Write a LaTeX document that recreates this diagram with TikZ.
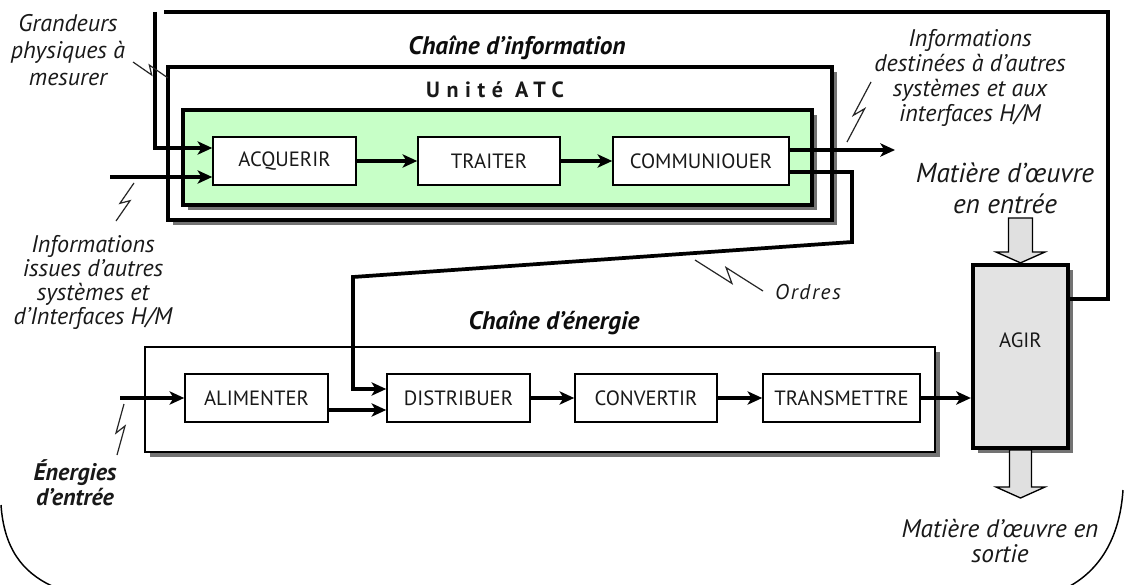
\documentclass[tikz,border=0pt]{standalone}
\usepackage{fontspec}
\setmainfont{PT Sans}
\usetikzlibrary{arrows.meta,shadows,calc}
\newcommand\eclair[5]{% x1 y1 x2 y2 offset
  \pgfmathsetmacro\bdx{#3-#1}\pgfmathsetmacro\bdy{#4-#2}%
  \pgfmathsetmacro\blen{veclen(\bdx,\bdy)}%
  \pgfmathsetmacro\bnx{-\bdy/\blen*#5}\pgfmathsetmacro\bny{\bdx/\blen*#5}%
  \draw[boltline] (#1,#2) -- ({#1+0.58*\bdx+\bnx},{#2+0.58*\bdy+\bny}) -- ({#1+0.42*\bdx-\bnx},{#2+0.42*\bdy-\bny}) -- (#3,#4);}
\begin{document}
\begin{tikzpicture}[x=0.75pt,y=-0.75pt,
  wire/.style={line width=2.8pt},
  flow/.style={line width=2.8pt,-{Stealth[length=11pt,width=10pt,inset=3pt]}},
  boltline/.style={line width=0.9pt,black!85},
  shad/.style={drop shadow={shadow xshift=3.6pt,shadow yshift=-3.6pt,fill=black!55,opacity=1}},
  fbox/.style={draw,line width=1.2pt,fill=white,inner sep=0pt,minimum height=36pt,
    font=\fontsize{15.5}{18}\selectfont,text=black!90},
  thickbox/.style={draw,line width=3.2pt,inner sep=0pt,shad},
  thinbox/.style={draw,line width=1.3pt,inner sep=0pt,fill=white,shad},
  lab/.style={align=center,font=\fontsize{18}{19}\selectfont\itshape,text=black!90},
  title/.style={font=\fontsize{19}{21}\selectfont\bfseries\itshape,text=black!95},
  hollow/.style={draw,line width=1pt,fill=black!12},
  outline/.style={line width=1.1pt}]
\useasboundingbox (0,0) rectangle (1125,585);
\fill[white] (0,0) rectangle (1125,585);

% containers
\node[thickbox,fill=white,minimum width=498pt,minimum height=114.75pt] (chinfo) at (500,143.5) {};
\node[thickbox,fill=green!22!white,minimum width=471.75pt,minimum height=71.25pt] (atc) at (497.5,157.5) {};
\node[thinbox,minimum width=592.5pt,minimum height=78.75pt] (chen) at (540,399.5) {};

\node[title] (tinfo) at (517,48) {Chaîne d’information};
\node[font=\fontsize{16.5}{19}\selectfont\bfseries\addfontfeature{LetterSpace=30},text=black!90] (tatc) at (495,90) {Unité ATC};
\node[title] (ten) at (554,323) {Chaîne d’énergie};

% function boxes
\node[fbox,minimum width=107.25pt] (acq) at (284.5,161) {ACQUERIR};
\node[fbox,minimum width=106.5pt] (trait) at (489,161) {TRAITER};
\node[fbox,minimum width=132pt] (comm) at (701,161) {COMMUNIOUER};
\node[fbox,minimum width=107.25pt] (ali) at (256.5,398) {ALIMENTER};
\node[fbox,minimum width=107.25pt] (dist) at (458.5,398) {DISTRIBUER};
\node[fbox,minimum width=106.5pt] (conv) at (646,398) {CONVERTIR};
\node[fbox,minimum width=117.75pt] (trans) at (841.5,398) {TRANSMETTRE};
\node[thickbox,fill=black!11,minimum width=71.25pt,minimum height=137.25pt,
  label={[yshift=12pt,font=\fontsize{15.5}{18}\selectfont,text=black!90]center:AGIR}] (agir) at (1020.5,356.5) {};

% coordinates
\coordinate (fb1) at (1108,299);
\coordinate (fb2) at (1108,12);
\coordinate (fb3) at (164,12);
\coordinate (gp) at (155,12);
\coordinate (gin) at (155,148);
\coordinate (iin) at (110,177);
\coordinate (iout) at (895,150);
\coordinate (o1) at (852,172);
\coordinate (o2) at (852,242);
\coordinate (o3) at (353,277);
\coordinate (o4) at (353,389);
\coordinate (ein) at (120,398);
\coordinate (al) at (0,410);

% connectors
\draw[wire] (agir.east |- fb1) -- (fb1) -- (fb2) -- (fb3);
\draw[flow] (gp) -- (gin) -- (gin -| acq.west);
\draw[flow] (iin) -- (iin -| acq.west);
\draw[flow] (acq.east) -- (trait.west);
\draw[flow] (trait.east) -- (comm.west);
\draw[flow] (comm.east |- iout) -- (iout);
\draw[flow] (comm.east |- o1) -- (o1) -- (o2) -- (o3) -- (o4) -- (o4 -| dist.west);
\draw[flow] (ein) -- (ali.west);
\draw[flow] (ali.east |- al) -- (dist.west |- al);
\draw[flow] (dist.east) -- (conv.west);
\draw[flow] (conv.east) -- (trans.west);
\draw[flow] (trans.east) -- (trans.east -| agir.west);

% hollow arrows (matter in / out)
\draw[hollow] (1008.5,218) -- (1032.5,218) -- (1032.5,252) -- (1045,252) -- (agir.north) -- (996,252) -- (1008.5,252) -- cycle;
\draw[hollow] (1009.5,450) -- (1009.5,487) -- (996,487) -- (1020.5,498) -- (1045,487) -- (1031.5,487) -- (1031.5,450) -- cycle;

% lightning marks
\eclair{133}{62}{168}{78}{4}
\eclair{116}{221}{134}{183}{4}
\eclair{847}{142}{871}{82}{4}
\eclair{695}{260}{763}{291}{6}
\eclair{117}{455}{124}{404}{4}

% labels
\node[lab,font=\fontsize{18}{20}\selectfont\itshape] (lgr) at (68,50) {Grandeurs\\physiques à\\mesurer};
\node[lab,font=\fontsize{18}{18}\selectfont\itshape] (liss) at (93,282) {Informations\\issues d’autres\\systèmes et\\d’Interfaces H/M};
\node[lab,font=\fontsize{18}{18.75}\selectfont\itshape] (ldest) at (970,78) {Informations\\destinées à d’autres\\systèmes et aux\\interfaces H/M};
\node[lab,font=\fontsize{20.5}{23.5}\selectfont\itshape] (lmin) at (1005,188) {Matière d'œuvre\\en entrée};
\node[lab,font=\fontsize{19}{19}\selectfont\itshape] (lmout) at (1000,541) {Matière d'œuvre en\\sortie};
\node[lab,font=\fontsize{16}{19}\selectfont\itshape\addfontfeature{LetterSpace=8}] (lord) at (808,292) {Ordres};
\node[lab,font=\fontsize{18}{19}\selectfont\bfseries\itshape] (lener) at (75,483) {Énergies\\d’entrée};

% enclosing outline (partly visible)
\draw[outline] (1,505) .. controls (4,548) and (22,572) .. (52,586);
\draw[outline] (1123,490) .. controls (1120,535) and (1102,568) .. (1070,586);
\end{tikzpicture}
\end{document}
